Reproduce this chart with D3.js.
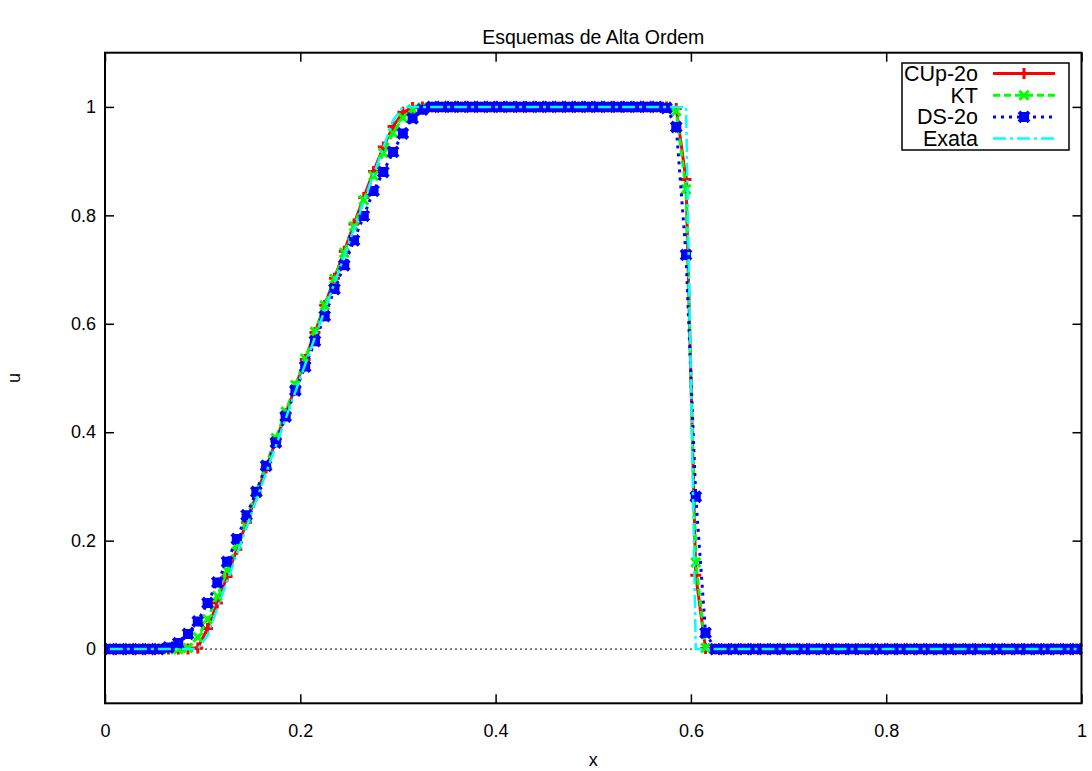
<!DOCTYPE html>
<html>
<head>
<meta charset="utf-8">
<script src="https://cdn.jsdelivr.net/npm/d3@7"></script>
<style>
  body { margin: 0; background: #fff; }
  text { font-family: "Liberation Sans", Arial, sans-serif; fill: #000; }
</style>
</head>
<body>
<div id="chart"></div>
<script>
// Cell centres of the 100-cell grid on [0, 1]
const cellCenters = d3.range(100).map(i => (i + 0.5) / 100);

// Values, one per cell (rows of 10 cells)
const cup2o = [
  0, 0, 0, 0, 0, 0, 0, 0, 0, 0.002,
  0.038, 0.085, 0.134, 0.184, 0.234, 0.284, 0.334, 0.384, 0.434, 0.484,
  0.534, 0.584, 0.634, 0.684, 0.734, 0.784, 0.833, 0.881, 0.926, 0.964,
  0.990, 0.999, 1, 1, 1, 1, 1, 1, 1, 1,
  1, 1, 1, 1, 1, 1, 1, 1, 1, 1,
  1, 1, 1, 1, 1, 1, 1, 1, 0.997, 0.866,
  0.136, 0.001, 0, 0, 0, 0, 0, 0, 0, 0,
  0, 0, 0, 0, 0, 0, 0, 0, 0, 0,
  0, 0, 0, 0, 0, 0, 0, 0, 0, 0,
  0, 0, 0, 0, 0, 0, 0, 0, 0, 0
];
const kt = [
  0, 0, 0, 0, 0, 0, 0, 0, 0.002, 0.022,
  0.055, 0.098, 0.145, 0.193, 0.242, 0.291, 0.340, 0.389, 0.438, 0.487,
  0.536, 0.585, 0.634, 0.683, 0.731, 0.780, 0.828, 0.873, 0.915, 0.952,
  0.980, 0.995, 0.999, 1, 1, 1, 1, 1, 1, 1,
  1, 1, 1, 1, 1, 1, 1, 1, 1, 1,
  1, 1, 1, 1, 1, 1, 1, 1, 0.992, 0.848,
  0.160, 0.002, 0, 0, 0, 0, 0, 0, 0, 0,
  0, 0, 0, 0, 0, 0, 0, 0, 0, 0,
  0, 0, 0, 0, 0, 0, 0, 0, 0, 0,
  0, 0, 0, 0, 0, 0, 0, 0, 0, 0
];
const ds2o = [
  0, 0, 0, 0, 0, 0, 0.003, 0.011, 0.028, 0.051,
  0.085, 0.123, 0.161, 0.203, 0.247, 0.290, 0.338, 0.381, 0.429, 0.477,
  0.521, 0.568, 0.614, 0.664, 0.708, 0.754, 0.799, 0.845, 0.880, 0.917,
  0.951, 0.979, 0.995, 1, 1, 1, 1, 1, 1, 1,
  1, 1, 1, 1, 1, 1, 1, 1, 1, 1,
  1, 1, 1, 1, 1, 1, 1, 0.998, 0.963, 0.727,
  0.281, 0.030, 0, 0, 0, 0, 0, 0, 0, 0,
  0, 0, 0, 0, 0, 0, 0, 0, 0, 0,
  0, 0, 0, 0, 0, 0, 0, 0, 0, 0,
  0, 0, 0, 0, 0, 0, 0, 0, 0, 0
];
const exata = [
  0, 0, 0, 0, 0, 0, 0, 0, 0, 0,
  0.025, 0.075, 0.125, 0.175, 0.225, 0.275, 0.325, 0.375, 0.425, 0.475,
  0.525, 0.575, 0.625, 0.675, 0.725, 0.775, 0.825, 0.875, 0.925, 0.975,
  1, 1, 1, 1, 1, 1, 1, 1, 1, 1,
  1, 1, 1, 1, 1, 1, 1, 1, 1, 1,
  1, 1, 1, 1, 1, 1, 1, 1, 1, 1,
  0, 0, 0, 0, 0, 0, 0, 0, 0, 0,
  0, 0, 0, 0, 0, 0, 0, 0, 0, 0,
  0, 0, 0, 0, 0, 0, 0, 0, 0, 0,
  0, 0, 0, 0, 0, 0, 0, 0, 0, 0
];

const xTicks = [0, 0.2, 0.4, 0.6, 0.8, 1];
const yTicks = [0, 0.2, 0.4, 0.6, 0.8, 1];
const seriesNames = ["CUp-2o", "KT", "DS-2o", "Exata"];

const width = 1092, height = 771;
const plot = {left: 105, right: 1081.5, top: 52.7, bottom: 703.3};

const svg = d3.select("#chart").append("svg")
  .attr("width", width)
  .attr("height", height);

const xScale = d3.scaleLinear().domain([0, 1]).range([plot.left, plot.right]);
const yScale = d3.scaleLinear().domain([-0.1, 1.1]).range([plot.bottom, plot.top]);

// styles for each series, in drawing order
const styles = [
  {name: seriesNames[0], values: cup2o, color: "#ff0000", dash: null, lw: 3, marker: "plus", ms: 5.5, mw: 3},
  {name: seriesNames[1], values: kt, color: "#00ff00", dash: "7,4", lw: 3, marker: "cross", ms: 4.5, mw: 3},
  {name: seriesNames[2], values: ds2o, color: "#0000ff", dash: "3,5", lw: 3, marker: "star", ms: 5, mw: 4},
  {name: seriesNames[3], values: exata, color: "#00ffff", dash: "13,4,3,4", lw: 2.5, marker: null}
];

function markerPath(type, cx, cy, s) {
  const p = d3.path();
  if (type === "plus" || type === "star") {
    p.moveTo(cx - s, cy); p.lineTo(cx + s, cy);
    p.moveTo(cx, cy - s); p.lineTo(cx, cy + s);
  }
  if (type === "cross" || type === "star") {
    p.moveTo(cx - s, cy - s); p.lineTo(cx + s, cy + s);
    p.moveTo(cx - s, cy + s); p.lineTo(cx + s, cy - s);
  }
  return p.toString();
}

// zero axis (dotted)
svg.append("line")
  .attr("x1", plot.left).attr("x2", plot.right)
  .attr("y1", yScale(0)).attr("y2", yScale(0))
  .attr("stroke", "#000").attr("stroke-width", 1)
  .attr("stroke-dasharray", "2,3");

// Axes with inward ticks (mirrored on top and right)
const xAxis = svg.append("g")
  .attr("transform", "translate(0," + plot.bottom + ")")
  .call(d3.axisBottom(xScale).tickValues(xTicks).tickSize(-9).tickPadding(21).tickFormat(d => String(d)));
const xAxisTop = svg.append("g")
  .attr("transform", "translate(0," + plot.top + ")")
  .call(d3.axisTop(xScale).tickValues(xTicks).tickSize(-9).tickFormat(""));
const yAxis = svg.append("g")
  .attr("transform", "translate(" + plot.left + ",0)")
  .call(d3.axisLeft(yScale).tickValues(yTicks).tickSize(-9).tickPadding(9).tickFormat(d => String(d)));
const yAxisRight = svg.append("g")
  .attr("transform", "translate(" + plot.right + ",0)")
  .call(d3.axisRight(yScale).tickValues(yTicks).tickSize(-9).tickFormat(""));

[xAxis, xAxisTop, yAxis, yAxisRight].forEach(g => {
  g.select(".domain").remove();
  g.selectAll(".tick line").attr("stroke", "#000").attr("stroke-width", 1.5);
  g.selectAll(".tick text")
    .style("font-family", "'Liberation Sans', Arial, sans-serif")
    .style("font-size", "18px")
    .attr("fill", "#000");
});

// series lines and points
const line = d3.line()
  .x((d, i) => xScale(cellCenters[i]))
  .y(d => yScale(d));

styles.forEach(s => {
  const g = svg.append("g");
  g.append("path")
    .datum(s.values)
    .attr("d", line)
    .attr("fill", "none")
    .attr("stroke", s.color)
    .attr("stroke-width", s.lw)
    .attr("stroke-dasharray", s.dash);
  if (s.marker) {
    g.selectAll("path.pt")
      .data(s.values)
      .enter().append("path")
      .attr("class", "pt")
      .attr("d", (d, i) => markerPath(s.marker, xScale(cellCenters[i]), yScale(d), s.ms))
      .attr("fill", "none")
      .attr("stroke", s.color)
      .attr("stroke-width", s.mw);
  }
});

// border
svg.append("rect")
  .attr("x", plot.left).attr("y", plot.top)
  .attr("width", plot.right - plot.left)
  .attr("height", plot.bottom - plot.top)
  .attr("fill", "none")
  .attr("stroke", "#000")
  .attr("stroke-width", 2);

// Legend (key box)
const legend = svg.append("g");
legend.append("rect")
  .attr("x", 902).attr("y", 63)
  .attr("width", 167).attr("height", 87)
  .attr("fill", "#fff")
  .attr("stroke", "#000")
  .attr("stroke-width", 1.5);

styles.forEach((s, i) => {
  const cy = 73.5 + i * 21.7;
  legend.append("text")
    .attr("x", 978).attr("y", cy)
    .attr("dy", "0.35em")
    .attr("text-anchor", "end")
    .style("font-size", "21.5px")
    .text(s.name);
  legend.append("line")
    .attr("x1", 993).attr("x2", 1055)
    .attr("y1", cy).attr("y2", cy)
    .attr("stroke", s.color)
    .attr("stroke-width", s.lw)
    .attr("stroke-dasharray", s.dash);
  if (s.marker) {
    legend.append("path")
      .attr("d", markerPath(s.marker, 1024, cy, s.ms))
      .attr("fill", "none")
      .attr("stroke", s.color)
      .attr("stroke-width", s.mw);
  }
});

// Title and axis labels
svg.append("text")
  .attr("x", (plot.left + plot.right) / 2)
  .attr("y", 44)
  .attr("text-anchor", "middle")
  .style("font-size", "19.5px")
  .text("Esquemas de Alta Ordem");

svg.append("text")
  .attr("x", (plot.left + plot.right) / 2)
  .attr("y", 766)
  .attr("text-anchor", "middle")
  .style("font-size", "18px")
  .text("x");

svg.append("text")
  .attr("transform", "rotate(-90)")
  .attr("x", -(plot.top + plot.bottom) / 2)
  .attr("y", 14)
  .attr("dy", "0.35em")
  .attr("text-anchor", "middle")
  .style("font-size", "18px")
  .text("u");
</script>
</body>
</html>
